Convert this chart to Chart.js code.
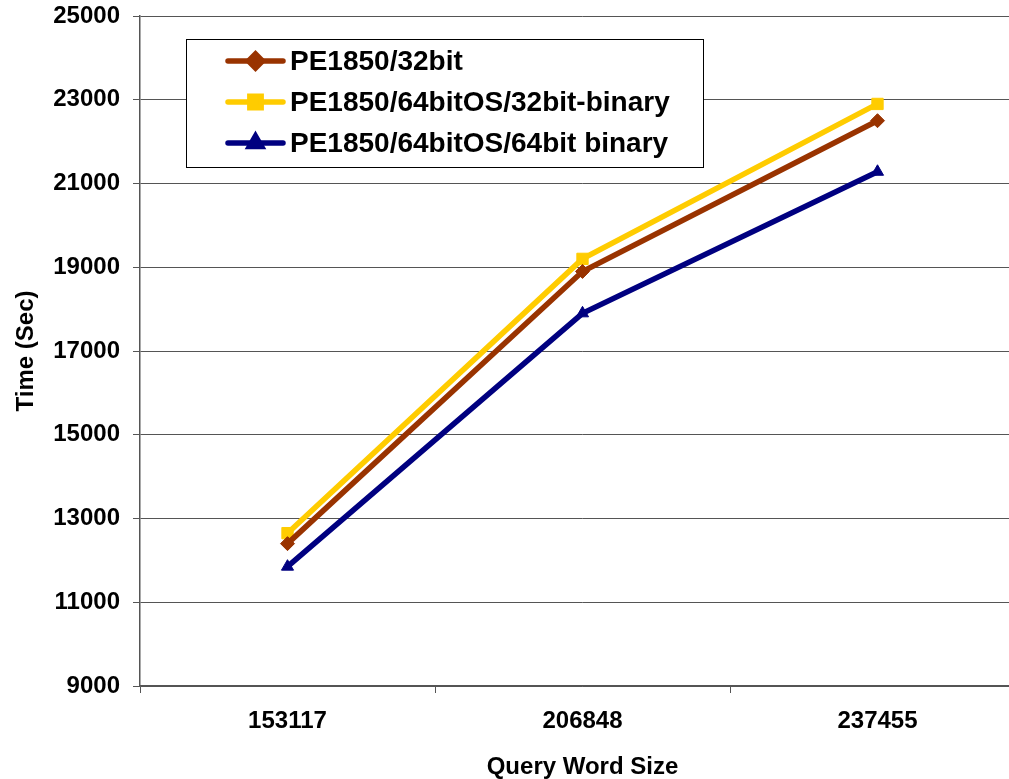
<!DOCTYPE html>
<html>
<head>
<meta charset="utf-8">
<script src="https://cdn.jsdelivr.net/npm/chart.js@4.4.1/dist/chart.umd.min.js"></script>
<style>
  html, body { margin: 0; padding: 0; background: #fff; }
  #wrap { width: 1009px; height: 779px; overflow: hidden; position: relative; }
  #chart { display: block; }
</style>
</head>
<body>
<div id="wrap"><canvas id="chart" width="1034" height="779"></canvas></div>
<script>
const categories = ['153117', '206848', '237455'];
const seriesNames = ['PE1850/32bit', 'PE1850/64bitOS/32bit-binary', 'PE1850/64bitOS/64bit binary'];
const pe32 = [12400, 18900, 22500];
const pe64os32 = [12650, 19200, 22900];
const pe64os64 = [11850, 17900, 21280];
const yTicks = [9000, 11000, 13000, 15000, 17000, 19000, 21000, 23000, 25000];

const colors = ['#993300', '#FFCC00', '#000080'];
const markers = ['rectRot', 'rect', 'triangle'];
const markerSize = [7, 8, 7];

function makeSet(i, data) {
  return {
    label: seriesNames[i],
    data: data,
    borderColor: colors[i],
    backgroundColor: colors[i],
    borderWidth: 5.5,
    pointStyle: markers[i],
    pointRadius: markerSize[i],
    pointBorderWidth: 1,
    pointBorderColor: colors[i],
    pointBackgroundColor: colors[i],
    tension: 0
  };
}

// legend box drawn by hand so it can sit inside the plot like the original
const boxLegend = {
  id: 'boxLegend',
  afterDatasetsDraw(chart) {
    const ctx = chart.ctx;
    ctx.save();
    ctx.fillStyle = '#fff';
    ctx.fillRect(186, 39, 517, 128);
    ctx.strokeStyle = '#000';
    ctx.lineWidth = 1;
    ctx.strokeRect(186.5, 39.5, 517, 128);
    chart.data.datasets.forEach((ds, i) => {
      const y = 61 + i * 41;
      ctx.strokeStyle = ds.borderColor;
      ctx.lineWidth = 5.5;
      ctx.lineCap = 'round';
      ctx.beginPath();
      ctx.moveTo(228, y);
      ctx.lineTo(283, y);
      ctx.stroke();
      ctx.fillStyle = ds.backgroundColor;
      Chart.helpers.drawPoint(ctx, {pointStyle: ds.pointStyle, radius: ds.pointRadius, borderWidth: 1}, 255.5, y);
      ctx.fillStyle = '#000';
      ctx.font = 'bold 28px "Liberation Sans", Arial, sans-serif';
      ctx.textBaseline = 'middle';
      ctx.textAlign = 'left';
      ctx.fillText(ds.label, 290, y + 1);
    });
    ctx.restore();
  }
};

new Chart(document.getElementById('chart'), {
  type: 'line',
  data: {
    labels: categories,
    datasets: [makeSet(0, pe32), makeSet(1, pe64os32), makeSet(2, pe64os64)]
  },
  options: {
    responsive: false,
    animation: false,
    layout: { padding: { top: 16, left: 0, right: 0, bottom: 0 } },
    plugins: {
      legend: { display: false },
      tooltip: { enabled: false }
    },
    scales: {
      x: {
        offset: true,
        afterFit: (s) => { s.height = 93; s.paddingLeft = 0; s.paddingRight = 0; },
        grid: { display: true, drawOnChartArea: false, drawTicks: true, tickLength: 7, offset: true, color: '#555' },
        border: { display: true, color: '#555', width: 1.5 },
        ticks: {
          color: '#000',
          padding: 14,
          maxRotation: 0,
          font: { family: '"Liberation Sans", Arial, sans-serif', size: 24, weight: 'bold' }
        },
        title: {
          display: true,
          text: 'Query Word Size',
          color: '#000',
          padding: { top: 0, bottom: 0 },
          font: { family: '"Liberation Sans", Arial, sans-serif', size: 24, weight: 'bold', lineHeight: 1 }
        }
      },
      y: {
        min: 9000,
        max: 25000,
        afterFit: (s) => { s.width = 140; s.paddingTop = 0; s.paddingBottom = 0; },
        afterBuildTicks: (s) => { s.ticks = yTicks.map(v => ({ value: v })); },
        grid: { color: '#555', tickLength: 7, drawTicks: true },
        border: { display: true, color: '#555', width: 1.5 },
        ticks: {
          color: '#000',
          padding: 13,
          callback: (v) => String(v),
          font: { family: '"Liberation Sans", Arial, sans-serif', size: 24, weight: 'bold' }
        },
        title: {
          display: true,
          text: 'Time (Sec)',
          color: '#000',
          padding: { top: 12, bottom: 0 },
          font: { family: '"Liberation Sans", Arial, sans-serif', size: 24, weight: 'bold' }
        }
      }
    }
  },
  plugins: [boxLegend]
});
</script>
</body>
</html>
